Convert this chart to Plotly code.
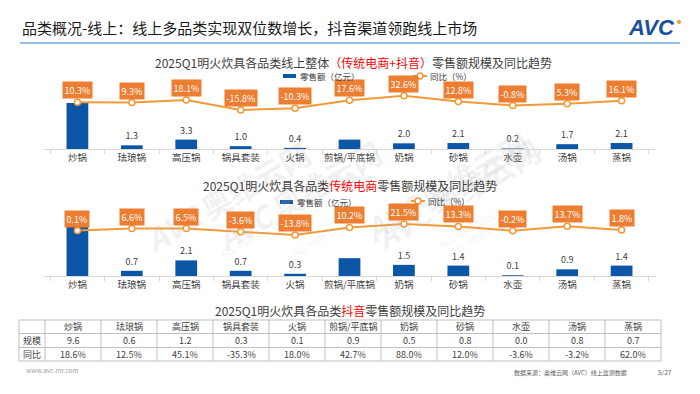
import plotly.graph_objects as go

categories = ["炒锅", "珐琅锅", "高压锅", "锅具套装", "火锅", "煎锅/平底锅", "奶锅", "砂锅", "水壶", "汤锅", "蒸锅"]
total_sales = [16.2, 1.3, 3.3, 1.0, 0.4, 3.3, 2.0, 2.1, 0.2, 1.7, 2.1]
total_yoy = [10.3, 9.3, 18.1, -15.8, -10.3, 17.6, 32.6, 12.8, -0.8, 5.3, 16.1]
trad_sales = [6.6, 0.7, 2.1, 0.7, 0.3, 2.4, 1.5, 1.4, 0.1, 0.9, 1.4]
trad_yoy = [0.1, 6.6, 6.5, -3.6, -13.8, 10.2, 21.5, 13.3, -0.2, 13.7, 1.8]
douyin_sales = [9.6, 0.6, 1.2, 0.3, 0.1, 0.9, 0.5, 0.8, 0.0, 0.8, 0.7]
douyin_yoy = [18.6, 12.5, 45.1, -35.3, 18.0, 42.7, 88.0, 12.0, -3.6, -3.2, 62.0]
row_labels = ["规模", "同比"]
hidden_labels = ["炒锅", "煎锅/平底锅"]

W, H = 700, 394
FONT = "Noto Sans CJK SC"
BLUE = "#0B56A6"
ORANGE_LINE = "#F29A38"
ORANGE_BOX = "#ED7D31"
GRAY_TXT = "#404040"


def px(p):
    return p / W


def py(p):
    return 1 - p / H


fig = go.Figure()

# Watermarks (faint)
for wx, wy in [(235, 128), (465, 125), (205, 292), (455, 283)]:
    fig.add_annotation(x=px(wx), y=py(wy), xref="paper", yref="paper", showarrow=False, textangle=-30,
                       text="<b><i>AVC</i> 奥维云网</b><br><span style='font-size:9px'>ALL VIEW CLOUD</span>",
                       font=dict(size=30, color="rgba(185,185,185,0.2)", family=FONT))


def add_chart(sales, yoy, xa, ya, ya2):
    txt = ["" if c in hidden_labels else f"{v:.1f}" for c, v in zip(categories, sales)]
    fig.add_trace(go.Bar(
        x=categories, y=sales, xaxis=xa, yaxis=ya, width=0.4,
        marker=dict(color=BLUE, line=dict(width=0)),
        text=txt, textposition="outside", cliponaxis=False,
        textfont=dict(size=9, color=GRAY_TXT, family=FONT),
        showlegend=False, hoverinfo="skip"))
    fig.add_trace(go.Scatter(
        x=categories, y=yoy, xaxis=xa, yaxis=ya2, mode="lines+markers",
        line=dict(color=ORANGE_LINE, width=2),
        marker=dict(size=6, color="white", line=dict(color=ORANGE_LINE, width=1.5)),
        cliponaxis=False, showlegend=False, hoverinfo="skip"))
    for c, v in zip(categories, yoy):
        fig.add_annotation(
            x=c, y=v, xref=xa, yref=ya2, text=f"{v:.1f}%", showarrow=False,
            yshift=12, bgcolor=ORANGE_BOX, borderpad=1.5,
            font=dict(size=9, color="white", family=FONT))


add_chart(total_sales, total_yoy, "x", "y", "y2")
add_chart(trad_sales, trad_yoy, "x2", "y3", "y4")

xcommon = dict(type="category", domain=[px(43), px(656)], showline=True, linecolor="#D9D9D9",
               linewidth=1, ticks="outside", tickson="boundaries", ticklen=4, tickcolor="#D9D9D9",
               tickangle=0,
               tickfont=dict(size=9.5, color=GRAY_TXT, family=FONT), showgrid=False, zeroline=False,
               fixedrange=True)

fig.update_layout(
    width=W, height=H, margin=dict(l=0, r=0, t=0, b=0),
    paper_bgcolor="white", plot_bgcolor="rgba(0,0,0,0)",
    font=dict(family=FONT, color=GRAY_TXT),
    xaxis=dict(anchor="y", **xcommon),
    yaxis=dict(domain=[py(149), py(70)], range=[0, 27.8], visible=False, fixedrange=True),
    yaxis2=dict(overlaying="y", anchor="x", range=[-151, 122], visible=False, fixedrange=True),
    xaxis2=dict(anchor="y3", **xcommon),
    yaxis3=dict(domain=[py(276), py(195)], range=[0, 10.9], visible=False, fixedrange=True),
    yaxis4=dict(overlaying="y3", anchor="x2", range=[-145, 114], visible=False, fixedrange=True),
)

# Table (drawn with shapes + text built from the data arrays)
t_left, first_w, col_w = 19, 26, 56
row_tops = [320, 333.5, 347.5, 361]
t_right = t_left + first_w + col_w * len(categories)
col_edges = [t_left, t_left + first_w] + [t_left + first_w + col_w * (i + 1) for i in range(len(categories))]
BORDER = "#BFBFBF"
for yy in row_tops:
    fig.add_shape(type="line", xref="paper", yref="paper", x0=px(t_left), x1=px(t_right),
                  y0=py(yy), y1=py(yy), line=dict(color=BORDER, width=1))
for xx in col_edges:
    fig.add_shape(type="line", xref="paper", yref="paper", x0=px(xx), x1=px(xx),
                  y0=py(row_tops[0]), y1=py(row_tops[-1]), line=dict(color=BORDER, width=1))
table_rows = [[""] + categories,
              [row_labels[0]] + [f"{v:.1f}" for v in douyin_sales],
              [row_labels[1]] + [f"{v:.1f}%" for v in douyin_yoy]]
for r, row in enumerate(table_rows):
    yc = (row_tops[r] + row_tops[r + 1]) / 2
    for c, val in enumerate(row):
        xc = (col_edges[c] + col_edges[c + 1]) / 2
        fig.add_annotation(x=px(xc), y=py(yc), xref="paper", yref="paper", text=val, showarrow=False,
                           xanchor="center", yanchor="middle",
                           font=dict(size=9, color=GRAY_TXT, family=FONT))

# Header
fig.add_annotation(x=px(20), y=py(28), xref="paper", yref="paper", xanchor="left", yanchor="middle",
                   text="品类概况-线上：线上多品类实现双位数增长，抖音渠道领跑线上市场", showarrow=False,
                   font=dict(size=15, color="#1A1A1A", family=FONT))
fig.add_shape(type="line", xref="paper", yref="paper", x0=px(20), x1=px(680), y0=py(43), y1=py(43),
              line=dict(color="#6FA8DC", width=1.5))
fig.add_annotation(x=px(677), y=py(28), xref="paper", yref="paper", xanchor="right", yanchor="middle",
                   text="<b><i>AVC</i></b>", showarrow=False,
                   font=dict(size=22, color="#1C4FA0", family="Liberation Sans"))
fig.add_shape(type="circle", xref="paper", yref="paper", x0=px(677), x1=px(681), y0=py(24), y1=py(20),
              fillcolor="#F39A2B", line=dict(width=0))

# Chart titles
RED = "#FF0000"
fig.add_annotation(x=px(354), y=py(63), xref="paper", yref="paper", xanchor="center", yanchor="middle",
                   text=f"2025Q1明火炊具各品类线上整体<span style='color:{RED}'>（传统电商+抖音）</span>零售额规模及同比趋势",
                   showarrow=False, font=dict(size=12, color=GRAY_TXT, family=FONT))
fig.add_annotation(x=px(350), y=py(185), xref="paper", yref="paper", xanchor="center", yanchor="middle",
                   text=f"2025Q1明火炊具各品类<span style='color:{RED}'>传统电商</span>零售额规模及同比趋势",
                   showarrow=False, font=dict(size=12, color=GRAY_TXT, family=FONT))
fig.add_annotation(x=px(350), y=py(310), xref="paper", yref="paper", xanchor="center", yanchor="middle",
                   text=f"2025Q1明火炊具各品类<span style='color:{RED}'>抖音</span>零售额规模及同比趋势",
                   showarrow=False, font=dict(size=12, color=GRAY_TXT, family=FONT))


# Legends
def legend(bx, by, lx, ly):
    fig.add_shape(type="rect", xref="paper", yref="paper", x0=px(bx), x1=px(bx + 13),
                  y0=py(by + 2), y1=py(by - 2), fillcolor=BLUE, line=dict(width=0))
    fig.add_annotation(x=px(bx + 15), y=py(by), xref="paper", yref="paper", xanchor="left", yanchor="middle",
                       text="零售额（亿元）", showarrow=False, font=dict(size=8.5, color=GRAY_TXT, family=FONT))
    fig.add_shape(type="line", xref="paper", yref="paper", x0=px(lx), x1=px(lx + 14),
                  y0=py(ly), y1=py(ly), line=dict(color=ORANGE_LINE, width=2))
    fig.add_shape(type="circle", xref="paper", yref="paper", x0=px(lx + 4), x1=px(lx + 10),
                  y0=py(ly + 3), y1=py(ly - 3), fillcolor="white", line=dict(color=ORANGE_LINE, width=1.5))
    fig.add_annotation(x=px(lx + 15), y=py(ly), xref="paper", yref="paper", xanchor="left", yanchor="middle",
                       text="同比（%）", showarrow=False, font=dict(size=8.5, color=GRAY_TXT, family=FONT))


legend(283, 76, 413, 76)
legend(280, 202, 411, 201)

# Footer
fig.add_annotation(x=px(24), y=py(370), xref="paper", yref="paper", xanchor="left", yanchor="middle",
                   text="www.avc-mr.com", showarrow=False, font=dict(size=6.5, color="#A0A0A0", family=FONT))
fig.add_annotation(x=px(512), y=py(372), xref="paper", yref="paper", xanchor="left", yanchor="middle",
                   text="数据来源：奥维云网（AVC）线上监测数据", showarrow=False,
                   font=dict(size=6, color="#606060", family=FONT))
fig.add_annotation(x=px(674), y=py(372), xref="paper", yref="paper", xanchor="right", yanchor="middle",
                   text="5/27", showarrow=False, font=dict(size=6.5, color="#606060", family=FONT))

fig.write_html("out.html", config={"displayModeBar": False, "staticPlot": True},
               post_script="document.body.style.margin='0';document.body.style.overflow='hidden';")
